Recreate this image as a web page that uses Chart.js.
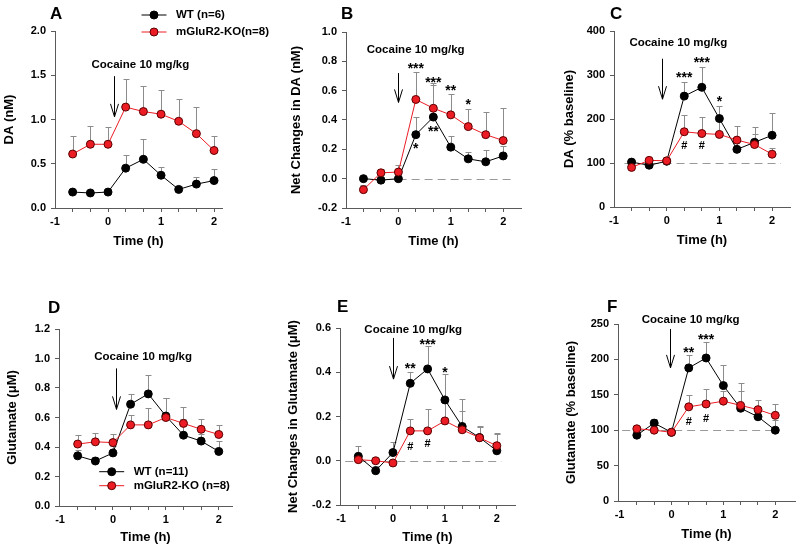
<!DOCTYPE html>
<html><head><meta charset="utf-8">
<script src="https://cdn.jsdelivr.net/npm/chart.js@4.4.1/dist/chart.umd.min.js"></script>
<style>
html,body{margin:0;padding:0;background:#fff;}
body{width:800px;height:549px;overflow:hidden;position:relative;}
canvas{position:absolute;}
</style></head><body>
<script>
// ---------- data ----------
const timeH = [-0.667, -0.333, 0, 0.333, 0.667, 1, 1.333, 1.667, 2];
const xTickValues = [-1, 0, 1, 2];
const xTickLabels = ['-1', '0', '1', '2'];

// A: DA (nM)
const daWT     = [0.18, 0.17, 0.18, 0.45, 0.55, 0.37, 0.21, 0.27, 0.31];
const daWTerr  = [0.02, 0.02, 0.02, 0.15, 0.235, 0.094, 0.04, 0.085, 0.13];
const daKO     = [0.61, 0.72, 0.72, 1.14, 1.09, 1.06, 0.98, 0.84, 0.65];
const daKOerr  = [0.205, 0.21, 0.20, 0.32, 0.29, 0.27, 0.25, 0.30, 0.165];
const daYTicks = [0, 0.5, 1.0, 1.5, 2.0];

// B: Net changes in DA (nM)
const netDaWT    = [0.0, -0.01, 0.0, 0.30, 0.42, 0.215, 0.135, 0.115, 0.155];
const netDaWTerr = [0.02, 0.02, 0.02, 0.12, 0.22, 0.075, 0.045, 0.08, 0.07];
const netDaKO    = [-0.075, 0.04, 0.045, 0.54, 0.48, 0.435, 0.355, 0.30, 0.26];
const netDaKOerr = [0.03, 0.025, 0.045, 0.19, 0.17, 0.14, 0.12, 0.155, 0.22];
const netDaYTicks = [-0.2, 0, 0.2, 0.4, 0.6, 0.8, 1.0];

// C: DA (% baseline)
const pctDaWT    = [102, 95, 104, 252, 272, 201, 131, 147, 163];
const pctDaWTerr = [5, 5, 5, 31, 46, 29, 20, 34, 51];
const pctDaKO    = [90, 106, 105, 171, 167, 165, 152, 142, 120];
const pctDaKOerr = [5, 5, 5, 37, 37, 33, 32, 25, 15];
const pctDaYTicks = [0, 100, 200, 300, 400];

// D: Glutamate (uM)
const gluWT    = [0.34, 0.305, 0.36, 0.69, 0.76, 0.61, 0.48, 0.44, 0.37];
const gluWTerr = [0.04, 0.03, 0.05, 0.07, 0.125, 0.125, 0.11, 0.045, 0.07];
const gluKO    = [0.42, 0.435, 0.43, 0.55, 0.55, 0.60, 0.56, 0.52, 0.485];
const gluKOerr = [0.06, 0.063, 0.06, 0.066, 0.113, 0.13, 0.108, 0.069, 0.061];
const gluYTicks = [0, 0.2, 0.4, 0.6, 0.8, 1.0, 1.2];

// E: Net changes in Glutamate (uM)
const netGluWT    = [0.02, -0.045, 0.037, 0.35, 0.415, 0.275, 0.155, 0.105, 0.045];
const netGluWTerr = [0.048, 0.02, 0.049, 0.05, 0.103, 0.115, 0.123, 0.05, 0.08];
const netGluKO    = [0.005, 0.0, -0.01, 0.135, 0.135, 0.18, 0.14, 0.104, 0.068];
const netGluKOerr = [0.01, 0.01, 0.01, 0.052, 0.097, 0.08, 0.083, 0.05, 0.055];
const netGluYTicks = [-0.2, 0, 0.2, 0.4, 0.6];

// F: Glutamate (% baseline)
const pctGluWT    = [93, 110, 97, 188, 202, 163, 131, 119, 100];
const pctGluWTerr = [3, 6, 3, 18, 22, 29, 25, 12, 15];
const pctGluKO    = [102, 100, 97, 133, 137, 141, 135, 129, 121];
const pctGluKOerr = [2, 3, 3, 17, 21, 15, 31, 14, 16];
const pctGluYTicks = [0, 50, 100, 150, 200, 250];

// ---------- style ----------
const FONT = "'Liberation Sans', Arial, Helvetica, sans-serif";
const AXIS = '#5a5a5a';
const ERR = '#8c8c8c';
const RED = '#ec1c24';
const RED_EDGE = '#5a0000';

const panels = [
  {letter:'A', l:55, t:31, r:222, b:208, extra:50, xMin:-1, xMax:2.15, yTicks:daYTicks, dec:1, yTitle:'DA (nM)', titleGap:45, xGap:33,
   wt:daWT, wtErr:daWTerr, ko:daKO, koErr:daKOerr, letterPos:[50,13],
   arrow:{x:0.11, top:1.49, tip:1.03}, cocaine:[0.61,1.62], stars:[], hashes:[], baseline:null,
   legend:{x:154, y1:15, y2:32, labels:['WT (n=6)','mGluR2-KO(n=8)']}},
  {letter:'B', l:346, t:32, r:523, b:208, extra:3, xMin:-1, xMax:2.34, yTicks:netDaYTicks, dec:1, yTitle:'Net Changes in DA (nM)', titleGap:48.5, xGap:33,
   wt:netDaWT, wtErr:netDaWTerr, ko:netDaKO, koErr:netDaKOerr, letterPos:[341,13],
   arrow:{x:0.0, top:0.72, tip:0.52}, cocaine:[0.33,0.88],
   stars:[['***',0.333,0.776],['***',0.667,0.68],['**',1,0.62],['*',1.333,0.53],['*',0.333,0.226],['**',0.667,0.345]],
   hashes:[], baseline:{y:0, x1:-0.74, x2:2.22}, legend:null},
  {letter:'C', l:614, t:31, r:792, b:207, extra:3, xMin:-1, xMax:2.34, yTicks:pctDaYTicks, dec:0, yTitle:'DA (% baseline)', titleGap:44, xGap:33,
   wt:pctDaWT, wtErr:pctDaWTerr, ko:pctDaKO, koErr:pctDaKOerr, letterPos:[610,13],
   arrow:{x:-0.08, top:337, tip:245}, cocaine:[0.22,374],
   stars:[['***',0.333,302],['***',0.667,335],['*',1,247]],
   hashes:[['#',0.333,140],['#',0.667,140]], baseline:{y:100, x1:-0.8, x2:2.17}, legend:null},
  {letter:'D', l:59, t:329, r:232, b:506, extra:5, xMin:-1.02, xMax:2.25, yTicks:gluYTicks, dec:1, yTitle:'Glutamate (\u03BCM)', titleGap:46, xGap:31,
   wt:gluWT, wtErr:gluWTerr, ko:gluKO, koErr:gluKOerr, letterPos:[48,306.7],
   arrow:{x:0.065, top:0.933, tip:0.655}, cocaine:[0.57,1.008], stars:[], hashes:[], baseline:null,
   legend:{x:111.7, y1:471.7, y2:485.7, labels:['WT (n=11)','mGluR2-KO (n=8)']}},
  {letter:'E', l:340, t:328, r:517, b:505, extra:3, xMin:-1.02, xMax:2.35, yTicks:netGluYTicks, dec:1, yTitle:'Net Changes in Glutamate (\u03BCM)', titleGap:46, xGap:31.5,
   wt:netGluWT, wtErr:netGluWTerr, ko:netGluKO, koErr:netGluKOerr, letterPos:[337,306],
   arrow:{x:0.0, top:0.555, tip:0.369}, cocaine:[0.39,0.592],
   stars:[['**',0.333,0.43],['***',0.667,0.542],['*',1,0.415]],
   hashes:[['#',0.333,0.064],['#',0.667,0.079]], baseline:{y:0, x1:-0.92, x2:2.09}, legend:null},
  {letter:'F', l:618, t:324, r:797, b:501, extra:3, xMin:-1.03, xMax:2.38, yTicks:pctGluYTicks, dec:0, yTitle:'Glutamate (% baseline)', titleGap:45.7, xGap:33,
   wt:pctGluWT, wtErr:pctGluWTerr, ko:pctGluKO, koErr:pctGluKOerr, letterPos:[607,306],
   arrow:{x:-0.02, top:243, tip:188}, cocaine:[0.37,256],
   stars:[['**',0.333,213.6],['***',0.667,232.4]],
   hashes:[['#',0.333,113],['#',0.667,117.6]], baseline:{y:100, x1:-0.95, x2:2.06}, legend:null}
];

function makePlugin(p, cl, ct) {
  return {
    id: 'annot' + p.letter,
    beforeDatasetsDraw(chart) {
      const ctx = chart.ctx, xs = chart.scales.x, ys = chart.scales.y;
      ctx.save();
      if (p.baseline) {
        ctx.strokeStyle = '#9a9a9a'; ctx.lineWidth = 1; ctx.setLineDash([8, 5]);
        const y = Math.round(ys.getPixelForValue(p.baseline.y)) + 0.5;
        ctx.beginPath();
        ctx.moveTo(xs.getPixelForValue(p.baseline.x1), y);
        ctx.lineTo(xs.getPixelForValue(p.baseline.x2), y);
        ctx.stroke();
        ctx.setLineDash([]);
      }
      // error bars (upper)
      ctx.strokeStyle = ERR; ctx.lineWidth = 1;
      [[p.ko, p.koErr], [p.wt, p.wtErr]].forEach(([vals, errs]) => {
        vals.forEach((v, j) => {
          const x = Math.round(xs.getPixelForValue(timeH[j])) + 0.5;
          const y0 = ys.getPixelForValue(v);
          const y1 = Math.round(ys.getPixelForValue(v + errs[j])) + 0.5;
          ctx.beginPath();
          ctx.moveTo(x, y0); ctx.lineTo(x, y1);
          ctx.moveTo(x - 3, y1); ctx.lineTo(x + 3, y1);
          ctx.stroke();
        });
      });
      // arrow
      ctx.strokeStyle = '#000'; ctx.lineWidth = 1;
      const ax = Math.round(xs.getPixelForValue(p.arrow.x)) + 0.5;
      const at = ys.getPixelForValue(p.arrow.top), ab = ys.getPixelForValue(p.arrow.tip);
      ctx.beginPath();
      ctx.moveTo(ax, at); ctx.lineTo(ax, ab);
      ctx.moveTo(ax - 4, ab - 13); ctx.lineTo(ax, ab); ctx.lineTo(ax + 4, ab - 13);
      ctx.stroke();
      // cocaine label
      ctx.fillStyle = '#000';
      ctx.font = 'bold 11.5px ' + FONT;
      ctx.textAlign = 'center'; ctx.textBaseline = 'middle';
      ctx.fillText('Cocaine 10 mg/kg', xs.getPixelForValue(p.cocaine[0]), ys.getPixelForValue(p.cocaine[1]));
      ctx.restore();
    },
    afterDatasetsDraw(chart) {
      const ctx = chart.ctx, xs = chart.scales.x, ys = chart.scales.y;
      ctx.save();
      ctx.fillStyle = '#000';
      ctx.textAlign = 'center'; ctx.textBaseline = 'alphabetic';
      ctx.font = 'bold 14px ' + FONT;
      p.stars.forEach(([s, x, y]) => ctx.fillText(s, xs.getPixelForValue(x), ys.getPixelForValue(y) + 7.7));
      ctx.font = 'bold 11px ' + FONT;
      p.hashes.forEach(([s, x, y]) => ctx.fillText(s, xs.getPixelForValue(x), ys.getPixelForValue(y) + 3.8));
      // panel letter
      ctx.textAlign = 'left';
      ctx.font = 'bold 17px ' + FONT;
      ctx.fillText(p.letter, p.letterPos[0] - cl, p.letterPos[1] - ct + 6);
      // legend
      if (p.legend) {
        const L = p.legend;
        const rows = [[L.y1, '#000', '#000', '#000'], [L.y2, RED, RED, RED_EDGE]];
        rows.forEach(([y, line, fill, edge], k) => {
          const mx = L.x - cl, my = y - ct;
          ctx.strokeStyle = line; ctx.lineWidth = 1;
          ctx.beginPath(); ctx.moveTo(mx - 12.5, my); ctx.lineTo(mx + 12.5, my); ctx.stroke();
          ctx.beginPath(); ctx.arc(mx, my, 4, 0, Math.PI * 2);
          ctx.fillStyle = fill; ctx.fill(); ctx.strokeStyle = edge; ctx.stroke();
          ctx.fillStyle = '#000'; ctx.font = 'bold 11.5px ' + FONT;
          ctx.textAlign = 'left'; ctx.textBaseline = 'middle';
          ctx.fillText(L.labels[k], mx + 22, my);
        });
      }
      ctx.restore();
    }
  };
}

panels.forEach(p => {
  const W = p.titleGap + 7.8;
  const H = p.xGap + 7.8;
  const cl = Math.floor(p.l - W), ct = Math.floor(p.t - 28);
  const cr = Math.min(800, Math.ceil(p.r + p.extra)), cb = Math.ceil(p.b + H);
  const cv = document.createElement('canvas');
  cv.width = cr - cl; cv.height = cb - ct;
  cv.style.left = cl + 'px'; cv.style.top = ct + 'px';
  cv.style.width = (cr - cl) + 'px'; cv.style.height = (cb - ct) + 'px';
  document.body.appendChild(cv);
  const tickFont = {family: FONT, size: 11, weight: 'bold'};
  const titleFont = {family: FONT, size: 13, weight: 'bold'};
  new Chart(cv, {
    type: 'line',
    data: {
      datasets: [
        {label: 'mGluR2-KO', data: timeH.map((x, i) => ({x, y: p.ko[i]})), borderColor: RED, borderWidth: 1,
         pointBackgroundColor: RED, pointBorderColor: RED_EDGE, pointBorderWidth: 1, pointRadius: 4, tension: 0, fill: false},
        {label: 'WT', data: timeH.map((x, i) => ({x, y: p.wt[i]})), borderColor: '#000', borderWidth: 1,
         pointBackgroundColor: '#000', pointBorderColor: '#000', pointBorderWidth: 1, pointRadius: 4, tension: 0, fill: false}
      ]
    },
    options: {
      responsive: false, animation: false, devicePixelRatio: 1,
      layout: {padding: {left: 0, top: p.t - ct, right: cr - p.r, bottom: 0}},
      plugins: {legend: {display: false}, tooltip: {enabled: false}},
      scales: {
        x: {
          type: 'linear', min: p.xMin, max: p.xMax,
          afterBuildTicks: s => { s.ticks = [-1, ...timeH].map(v => ({value: v})); },
          afterFit: s => { s.height = cb - p.b; },
          ticks: {autoSkip: false, maxRotation: 0, minRotation: 0, padding: 3, color: '#000', font: tickFont,
            callback: v => { const k = xTickValues.indexOf(v); return k >= 0 ? xTickLabels[k] : ''; }},
          grid: {display: true, drawOnChartArea: false, drawTicks: true, tickLength: 4,
            tickColor: c => (c.tick && c.tick.value === -1) ? 'rgba(0,0,0,0)' : AXIS},
          border: {display: true, color: AXIS, width: 1},
          title: {display: true, text: 'Time (h)', color: '#000', font: titleFont, padding: 0}
        },
        y: {
          type: 'linear', min: p.yTicks[0], max: p.yTicks[p.yTicks.length - 1],
          afterBuildTicks: s => { s.ticks = p.yTicks.map(v => ({value: v})); },
          afterFit: s => { s.width = p.l - cl; },
          ticks: {autoSkip: false, padding: 5, color: '#000', font: tickFont, callback: v => Number(v).toFixed(p.dec)},
          grid: {display: true, drawOnChartArea: false, drawTicks: true, tickLength: 4, tickColor: AXIS},
          border: {display: true, color: AXIS, width: 1},
          title: {display: true, text: p.yTitle, color: '#000', font: titleFont, padding: 0}
        }
      }
    },
    plugins: [makePlugin(p, cl, ct)]
  });
});
</script>
</body></html>
